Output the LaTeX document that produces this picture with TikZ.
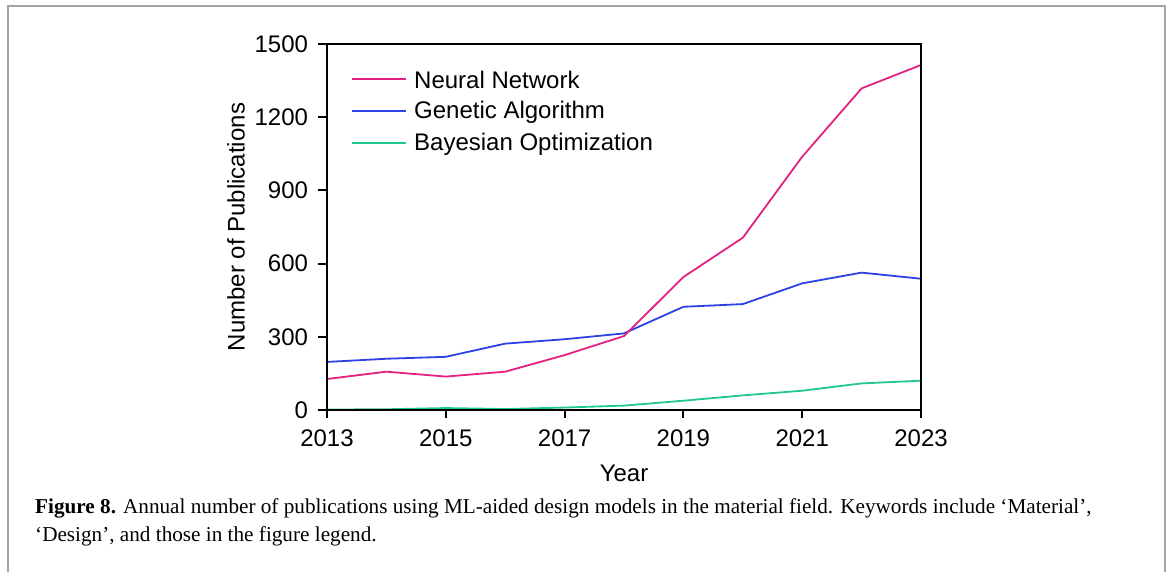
\documentclass[tikz,border=0pt]{standalone}
\usepackage{fontspec}
\setmainfont{Liberation Serif}
\newfontfamily\plotfont{Liberation Sans}

\definecolor{nncolor}{RGB}{228,32,128}
\definecolor{gacolor}{RGB}{44,66,228}
\definecolor{bocolor}{RGB}{32,200,140}
\definecolor{framegray}{RGB}{165,165,165}

\tikzset{
    axisline/.style = {line width=2pt, black},
    dataline/.style = {line width=1.8pt, line join=round},
    plottext/.style = {font=\plotfont\fontsize{24}{28}\selectfont, inner sep=0pt},
}

\begin{document}
\begin{tikzpicture}[x=1pt, y=1pt]
    \useasboundingbox (0,0) rectangle (1168,571);
    \draw[framegray, line width=1.2pt] (8,-2) -- (8,565) -- (1165,565) -- (1165,-2);

    \begin{scope}[shift={(327,161)}, x=59.4pt, y=0.244pt]
        % data, year 2013 = 0
        \draw[dataline, bocolor] plot coordinates {(0,2) (1,3) (2,8) (3,4) (4,10) (5,18) (6,38) (7,60) (8,79) (9,109) (10,120)};
        \draw[dataline, gacolor] plot coordinates {(0,197) (1,210) (2,218) (3,272) (4,290) (5,314) (6,423) (7,434) (8,519) (9,563) (10,538)};
        \draw[dataline, nncolor] plot coordinates {(0,127) (1,157) (2,137) (3,157) (4,225) (5,303) (6,545) (7,706) (8,1038) (9,1318) (10,1414)};
        % axes
        \draw[axisline] (0,0) rectangle (10,1500);
        \foreach \v in {0,300,...,1500}
            \draw[axisline] (0,\v) -- ++(-9pt,0) node[plottext, anchor=east, xshift=-9pt] (ytick\v) {\v};
        \foreach \i/\yr in {0/2013,2/2015,4/2017,6/2019,8/2021,10/2023}
            \draw[axisline] (\i,0) -- ++(0,-8pt) node[plottext, anchor=north, yshift=-11pt] (xtick\yr) {\yr};
    \end{scope}

    \node[plottext, rotate=90] (ylabel) at (236,344) {Number of Publications};
    \node[plottext] (xlabel) at (624,98) {Year};

    % legend
    \draw[dataline, nncolor] (352,492) -- (406,492);
    \node[plottext, anchor=west] (legnn) at (414,491) {Neural Network};
    \draw[dataline, gacolor] (352,460) -- (406,460);
    \node[plottext, anchor=west] (legga) at (414,459) {Genetic Algorithm};
    \draw[dataline, bocolor] (352,428) -- (406,428);
    \node[plottext, anchor=west] (legbo) at (414,427) {Bayesian Optimization};

    % caption
    \node[anchor=base west, inner sep=0pt, align=left, font=\fontsize{21.2}{28}\selectfont] (caption) at (35,30)
        {\textbf{Figure 8.} Annual number of publications using ML-aided design models in the material field. Keywords include ‘Material’,\\
         ‘Design’, and those in the figure legend.};
\end{tikzpicture}
\end{document}
